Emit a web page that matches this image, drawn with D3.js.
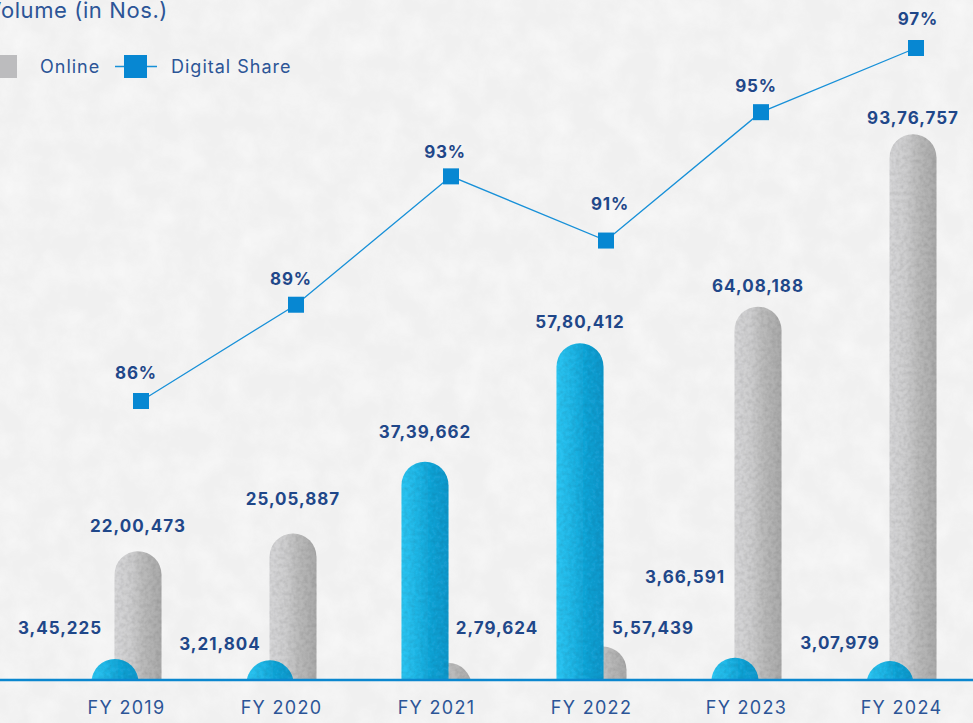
<!DOCTYPE html>
<html><head><meta charset="utf-8">
<script src="https://cdn.jsdelivr.net/npm/d3@7/dist/d3.min.js"></script>
<style>
html,body{margin:0;padding:0;background:#f1f1f1;overflow:hidden}
svg{display:block}
</style></head>
<body>
<svg id="chart" width="973" height="723"></svg>
<script>
// ---- data ----
const categories = ["FY 2019","FY 2020","FY 2021","FY 2022","FY 2023","FY 2024"];
const leftValues  = [345225, 321804, 3739662, 5780412, 366591, 307979];     // blue bars
const rightValues = [2200473, 2505887, 279624, 557439, 6408188, 9376757];   // grey bars
const shareValues = [86, 89, 93, 91, 95, 97];
const valueLabels = ["3,45,225","3,21,804","37,39,662","57,80,412","3,66,591","3,07,979"];
const rightLabels = ["22,00,473","25,05,887","2,79,624","5,57,439","64,08,188","93,76,757"];
const shareLabels = ["86%","89%","93%","91%","95%","97%"];
const legendLabels = ["Online","Digital Share"];
const titleText = "Volume (in Nos.)";

// ---- layout ----
const W = 973, H = 723, base = 679;
const svg = d3.select("#chart");
const defs = svg.append("defs");

// paper texture
const pf = defs.append("filter").attr("id","paper").attr("x",0).attr("y",0).attr("width","100%").attr("height","100%");
pf.append("feTurbulence").attr("type","fractalNoise").attr("baseFrequency","0.035").attr("numOctaves",4).attr("seed",3).attr("result","n");
pf.append("feColorMatrix").attr("in","n").attr("type","matrix")
  .attr("values","0 0 0 0 1  0 0 0 0 1  0 0 0 0 1  0.9 0 0 0 -0.3");
svg.append("rect").attr("width",W).attr("height",H).attr("fill","#f0f0f0");
svg.append("rect").attr("width",W).attr("height",H).attr("filter","url(#paper)").attr("opacity",0.9);

// bar texture
const bf = defs.append("filter").attr("id","grain").attr("x",0).attr("y",0).attr("width","100%").attr("height","100%");
bf.append("feTurbulence").attr("type","fractalNoise").attr("baseFrequency","0.25").attr("numOctaves",2).attr("seed",7).attr("result","t");
bf.append("feColorMatrix").attr("in","t").attr("type","matrix")
  .attr("values","0 0 0 0 0  0 0 0 0 0  0 0 0 0 0  0 0 0 0.35 -0.12").attr("result","g");
bf.append("feComposite").attr("in","g").attr("in2","SourceGraphic").attr("operator","in").attr("result","gc");
bf.append("feMerge").call(m=>{m.append("feMergeNode").attr("in","SourceGraphic");m.append("feMergeNode").attr("in","gc");});

function grad(id, stops){
  const g = defs.append("linearGradient").attr("id",id).attr("x1","0").attr("x2","1").attr("y1","0").attr("y2","0");
  stops.forEach(s=>g.append("stop").attr("offset",s[0]).attr("stop-color",s[1]));
}
grad("gGrey",[[0,"#d6d6d8"],[0.35,"#cdcdce"],[0.6,"#bbbbbb"],[1,"#a9a9a9"]]);
grad("gBlue",[[0,"#2ec6f3"],[0.35,"#22b6e6"],[0.65,"#16a3d6"],[1,"#1398cc"]]);

defs.append("clipPath").attr("id","baseClip").append("rect").attr("x",0).attr("y",0).attr("width",W).attr("height",base);

// scales
const x = d3.scaleBand().domain(categories).range([49, 979]);
const y = d3.scaleLinear().domain([0, 10000000]).range([base, base - 581]);
const ys = d3.scaleLinear().domain([86, 97]).range([401, 48]);
const bw = 47, off = 11.5;
const cx = c => x(c) + x.bandwidth()/2;

const bars = svg.append("g").attr("clip-path","url(#baseClip)");
function drawBars(vals, dx, fill){
  bars.append("g").selectAll("rect").data(vals).join("rect")
    .attr("x",(d,i)=>cx(categories[i]) + dx - bw/2)
    .attr("y",d=>y(d))
    .attr("width",bw)
    .attr("height",d=>base - y(d) + bw)
    .attr("rx",bw/2).attr("ry",bw/2)
    .attr("fill",fill)
    .attr("filter","url(#grain)");
}
drawBars(rightValues, off, "url(#gGrey)");
drawBars(leftValues, -off, "url(#gBlue)");

// baseline
svg.append("line").attr("x1",0).attr("x2",W).attr("y1",base+1).attr("y2",base+1)
  .attr("stroke","#0b87cf").attr("stroke-width",2.5);

const labelFont = "Inter, 'Open Sans', sans-serif";

// x-axis labels via axis
const xAxis = d3.axisBottom(x).tickSize(0).tickPadding(0);
const ax = svg.append("g").attr("transform",`translate(0,${base+2})`).call(xAxis);
ax.select(".domain").remove();
ax.selectAll("text").attr("dy","0.35em").attr("y",27).attr("font-family",labelFont)
  .attr("font-size",18).attr("letter-spacing",1.3).attr("fill","#2c5597");

// value labels
const leftLblDx = [-55,-50,0,0,-50,-50];
const leftLblY  = [628,644,null,null,577,643];
const leftLblAbove = [0,0,-30,-21,0,0];
const rightLblDx = [0,0,49,50,0,0];
const rightLblY = [null,null,628,628,null,null];
const rightLblAbove = [-25,-34,0,0,-21,-16];

function valueText(vals, labels, dx0, lblDx, lblY, lblAbove){
  svg.append("g").selectAll("text").data(vals).join("text")
    .attr("x",(d,i)=>cx(categories[i]) + dx0 + lblDx[i])
    .attr("y",(d,i)=> lblY[i]!=null ? lblY[i] : y(d) + lblAbove[i])
    .attr("dy","0.35em")
    .attr("text-anchor","middle")
    .attr("font-family",labelFont).attr("font-weight",700).attr("font-size",17)
    .attr("letter-spacing",1)
    .attr("fill","#1f4789")
    .text((d,i)=>labels[i]);
}
valueText(leftValues, valueLabels, -off, leftLblDx, leftLblY, leftLblAbove);
valueText(rightValues, rightLabels, off, rightLblDx, rightLblY, rightLblAbove);

// share line
const mdx = 14.5;
const line = d3.line().x((d,i)=>cx(categories[i]) + mdx).y(d=>ys(d));
svg.append("path").datum(shareValues).attr("d",line).attr("fill","none")
  .attr("stroke","#1790d8").attr("stroke-width",1.3);
svg.append("g").selectAll("rect").data(shareValues).join("rect")
  .attr("x",(d,i)=>cx(categories[i]) + mdx - 8).attr("y",d=>ys(d)-8)
  .attr("width",16).attr("height",16).attr("fill","#0787d2");
const shareAbove = [-28,-26,-24,-36,-26,-29];
const shareDx = [-5,-5,-6,4,-5,2];
svg.append("g").selectAll("text").data(shareValues).join("text")
  .attr("x",(d,i)=>cx(categories[i]) + mdx + shareDx[i])
  .attr("y",(d,i)=>ys(d) + shareAbove[i])
  .attr("dy","0.35em").attr("text-anchor","middle")
  .attr("font-family",labelFont).attr("font-weight",700).attr("font-size",17)
  .attr("letter-spacing",0.8).attr("fill","#1f4789")
  .text((d,i)=>shareLabels[i]);

// title (cut off at left, as in the source)
svg.append("text").attr("x",168).attr("y",18).attr("text-anchor","end")
  .attr("font-family",labelFont).attr("font-size",22).attr("letter-spacing",0.6).attr("fill","#2c5597")
  .text(titleText);

// legend
const lg = svg.append("g");
lg.append("rect").attr("x",-6).attr("y",55).attr("width",23).attr("height",23).attr("fill","#bcbcbe");
lg.append("text").attr("x",40).attr("y",67).attr("dy","0.35em")
  .attr("font-family",labelFont).attr("font-size",18).attr("letter-spacing",1).attr("fill","#2c5597").text(legendLabels[0]);
lg.append("line").attr("x1",115).attr("x2",157).attr("y1",66.5).attr("y2",66.5)
  .attr("stroke","#1790d8").attr("stroke-width",1.3);
lg.append("rect").attr("x",124).attr("y",55).attr("width",23).attr("height",23).attr("fill","#0787d2");
lg.append("text").attr("x",171).attr("y",67).attr("dy","0.35em")
  .attr("font-family",labelFont).attr("font-size",18).attr("letter-spacing",1).attr("fill","#2c5597").text(legendLabels[1]);
</script>
</body></html>
